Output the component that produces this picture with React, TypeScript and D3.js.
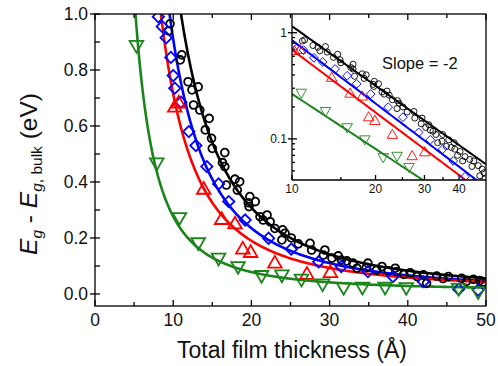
import * as d3 from "d3";
import { useEffect, useRef } from "react";

// black circles
const circleX = [9.4, 9.6, 10.9, 11.1, 11.9, 12.4, 13.2, 12.6, 13.4, 14.6, 14.1, 14.9, 15.0, 16.6, 16.3, 16.6, 16.8, 17.9, 18.5, 18.2, 19.8, 19.6, 20.5, 19.7, 21.1, 22.0, 21.5, 22.4, 23.0, 24.0, 24.3, 23.9, 25.1, 26.0, 27.5, 27.7, 29.4, 29.2, 30.3, 31.1, 31.5, 32.2, 33.0, 33.5, 34.9, 34.7, 36.0, 36.7, 37.5, 38.4, 38.6, 39.5, 40.3, 41.2, 42.0, 42.4, 43.7, 44.5, 45.2, 46.9, 47.5, 48.4, 49.2, 49.6];
const circleY = [0.94, 0.965, 0.836, 0.854, 0.758, 0.729, 0.74, 0.675, 0.657, 0.627, 0.586, 0.556, 0.52, 0.505, 0.469, 0.455, 0.389, 0.41, 0.401, 0.371, 0.348, 0.326, 0.33, 0.312, 0.276, 0.282, 0.264, 0.258, 0.234, 0.229, 0.217, 0.193, 0.2, 0.179, 0.181, 0.157, 0.157, 0.139, 0.128, 0.136, 0.121, 0.118, 0.11, 0.092, 0.11, 0.095, 0.085, 0.098, 0.083, 0.092, 0.08, 0.07, 0.076, 0.062, 0.068, 0.038, 0.064, 0.055, 0.062, 0.056, 0.045, 0.052, 0.048, 0.042];

// blue diamonds
const diamondX = [8.1, 8.6, 9.1, 9.7, 10.0, 10.2, 11.0, 12.0, 12.9, 14.3, 15.8, 17.1, 19.2, 22.2, 25.1, 28.6, 31.5, 34.9, 38.1, 42.0, 46.5, 49.0];
const diamondY = [0.99, 0.955, 0.915, 0.845, 0.78, 0.735, 0.685, 0.58, 0.53, 0.455, 0.393, 0.33, 0.264, 0.199, 0.16, 0.115, 0.098, 0.08, 0.062, 0.044, 0.017, 0.014];

// red triangles
const triUpX = [10.2, 10.7, 13.9, 16.2, 17.9, 18.9, 19.9, 23.0, 27.1, 30.1];
const triUpY = [0.665, 0.68, 0.372, 0.264, 0.248, 0.158, 0.146, 0.108, 0.068, 0.074];

// green triangles (down)
const triDownX = [5.3, 7.9, 10.8, 13.2, 15.8, 18.3, 21.3, 23.9, 26.4, 29.1, 31.8, 34.2, 37.1, 39.8, 46.5, 49.0];
const triDownY = [0.89, 0.47, 0.275, 0.185, 0.13, 0.1, 0.068, 0.07, 0.055, 0.038, 0.025, 0.026, 0.026, 0.025, 0.022, 0.01];

const seriesColors = ["#000000", "#0000ff", "#ff0000", "#1b841b"];
const seriesShapes = ["circle", "diamond", "up", "down"];
// fit E = A / d^2 + c
const fitAmp = [120, 90, 70, 26.5];
const fitOffset = [0.008, 0.01, 0.015, 0.012];
// inset fit lines: value at 10 A and log-log slope
const insetAt10 = [1.15, 0.85, 0.69, 0.265];
const insetSlope = [-1.86, -1.98, -1.96, -1.72];

const xTicks = [0, 10, 20, 30, 40, 50];
const xMinor = [5, 15, 25, 35, 45];
const yTicks = [0, 0.2, 0.4, 0.6, 0.8, 1.0];
const yMinor = [0.1, 0.3, 0.5, 0.7, 0.9];
const insetXTicks = [10, 20, 30, 40];
const insetXMinor = [15, 25, 35, 45];
const insetYTicks = [0.1, 1];
const insetYMinor = [0.05, 0.06, 0.07, 0.08, 0.09, 0.2, 0.3, 0.4, 0.5, 0.6, 0.7, 0.8, 0.9];

const FONT = "'Liberation Sans', Arial, Helvetica, sans-serif";

const App = () => {
  const svgRef = useRef<SVGSVGElement>(null);

  useEffect(() => {
    const svg = d3.select(svgRef.current);
    svg.selectAll("*").remove();

    const x = d3.scaleLinear().domain([0, 50]).range([95, 486]);
    const y = d3.scaleLinear().domain([-0.043, 1]).range([306, 14]);
    const ix = d3.scaleLog().domain([10, 50]).range([292, 486]);
    const iy = d3.scaleLog().domain([0.041, 1.5]).range([180, 14]);

    const defs = svg.append("defs");
    defs.append("clipPath").attr("id", "mainClip")
      .append("rect").attr("x", 95).attr("y", 14).attr("width", 391).attr("height", 292);
    defs.append("clipPath").attr("id", "insetClip")
      .append("rect").attr("x", 292).attr("y", 14).attr("width", 194).attr("height", 166);

    const series = [
      { xs: circleX, ys: circleY },
      { xs: diamondX, ys: diamondY },
      { xs: triUpX, ys: triUpY },
      { xs: triDownX, ys: triDownY },
    ];

    const drawMarkers = (g: any, xs: number[], ys: number[], sx: any, sy: any, shape: string, color: string, k: number, sw: number) => {
      const sym = shape === "circle" ? d3.symbolCircle : shape === "diamond" ? d3.symbolSquare : d3.symbolTriangle;
      const size = shape === "circle" ? 48 : shape === "diamond" ? 64 : 80;
      const rot = shape === "diamond" ? 45 : shape === "down" ? 180 : 0;
      g.append("g")
        .selectAll("path")
        .data(xs.map((v, i) => [v, ys[i]]))
        .join("path")
        .attr("d", d3.symbol(sym, size * k))
        .attr("transform", (d: number[]) => `translate(${sx(d[0])},${sy(d[1])}) rotate(${rot})`)
        .attr("fill", "none")
        .attr("stroke", color)
        .attr("stroke-width", sw);
    };

    // main plot
    const main = svg.append("g").attr("clip-path", "url(#mainClip)");
    const fitXs = d3.range(4, 50.05, 0.1);
    series.forEach((_s, i) => {
      const line = d3.line<number>()
        .x((d) => x(d))
        .y((d) => y(fitAmp[i] / (d * d) + fitOffset[i]));
      main.append("path").attr("d", line(fitXs)).attr("fill", "none")
        .attr("stroke", seriesColors[i]).attr("stroke-width", 2.6);
    });
    series.forEach((s, i) => {
      drawMarkers(main, s.xs, s.ys, x, y, seriesShapes[i], seriesColors[i], 1, 1.8);
    });

    // main frame + ticks
    const axis = svg.append("g").attr("stroke", "#000").attr("stroke-width", 1.3);
    axis.append("rect").attr("x", 95).attr("y", 14).attr("width", 391).attr("height", 292).attr("fill", "none");
    xTicks.forEach((t) => {
      axis.append("line").attr("x1", x(t)).attr("x2", x(t)).attr("y1", 306).attr("y2", 300);
      axis.append("line").attr("x1", x(t)).attr("x2", x(t)).attr("y1", 14).attr("y2", 20);
    });
    xMinor.forEach((t) => {
      axis.append("line").attr("x1", x(t)).attr("x2", x(t)).attr("y1", 306).attr("y2", 302);
      axis.append("line").attr("x1", x(t)).attr("x2", x(t)).attr("y1", 14).attr("y2", 18);
    });
    yTicks.forEach((t) => {
      axis.append("line").attr("x1", 90).attr("x2", 100).attr("y1", y(t)).attr("y2", y(t));
    });
    yMinor.forEach((t) => {
      axis.append("line").attr("x1", 95).attr("x2", 100).attr("y1", y(t)).attr("y2", y(t));
    });

    svg.append("g").attr("font-family", FONT).attr("font-size", 17.5).attr("fill", "#111")
      .selectAll("text").data(yTicks).join("text")
      .attr("x", 88).attr("y", (d) => y(d)).attr("dy", "0.36em").attr("text-anchor", "end")
      .text((d) => d3.format(".1f")(d));
    svg.append("g").attr("font-family", FONT).attr("font-size", 17.5).attr("fill", "#111")
      .selectAll("text").data(xTicks).join("text")
      .attr("x", (d) => x(d)).attr("y", 326).attr("text-anchor", "middle")
      .text((d) => String(d));

    svg.append("text").attr("x", 292).attr("y", 358).attr("text-anchor", "middle")
      .attr("font-family", FONT).attr("font-size", 23).attr("fill", "#111")
      .text("Total film thickness (Å)");

    const yt = svg.append("text").attr("transform", "translate(37,174) rotate(-90)")
      .attr("text-anchor", "middle").attr("font-family", FONT).attr("font-size", 24.5).attr("fill", "#111");
    yt.append("tspan").attr("font-style", "italic").text("E");
    yt.append("tspan").attr("font-style", "italic").attr("font-size", 15.5).attr("dy", 5).text("g");
    yt.append("tspan").attr("dy", -5).text(" - ");
    yt.append("tspan").attr("font-style", "italic").text("E");
    yt.append("tspan").attr("font-style", "italic").attr("font-size", 15.5).attr("dy", 5).text("g");
    yt.append("tspan").attr("font-size", 15.5).text(", bulk");
    yt.append("tspan").attr("dy", -5).text(" (eV)");

    // inset
    const inset = svg.append("g").attr("clip-path", "url(#insetClip)");
    const insetXs = d3.range(10, 50.05, 0.5);
    series.forEach((_s, i) => {
      const line = d3.line<number>()
        .x((d) => ix(d))
        .y((d) => iy(insetAt10[i] * Math.pow(d / 10, insetSlope[i])));
      inset.append("path").attr("d", line(insetXs)).attr("fill", "none")
        .attr("stroke", seriesColors[i]).attr("stroke-width", 2);
    });
    series.forEach((s, i) => {
      drawMarkers(inset, s.xs, s.ys, ix, iy, seriesShapes[i], seriesColors[i], 0.6, 0.9);
    });

    const iaxis = svg.append("g").attr("stroke", "#000").attr("stroke-width", 1.3);
    iaxis.append("line").attr("x1", 292).attr("x2", 292).attr("y1", 14).attr("y2", 180);
    iaxis.append("line").attr("x1", 292).attr("x2", 486).attr("y1", 180).attr("y2", 180);
    insetYTicks.forEach((t) => {
      iaxis.append("line").attr("x1", 288).attr("x2", 297).attr("y1", iy(t)).attr("y2", iy(t));
    });
    insetYMinor.forEach((t) => {
      iaxis.append("line").attr("x1", 292).attr("x2", 295).attr("y1", iy(t)).attr("y2", iy(t));
    });
    insetXTicks.forEach((t) => {
      iaxis.append("line").attr("x1", ix(t)).attr("x2", ix(t)).attr("y1", 180).attr("y2", 175);
    });
    insetXMinor.forEach((t) => {
      iaxis.append("line").attr("x1", ix(t)).attr("x2", ix(t)).attr("y1", 180).attr("y2", 177);
    });

    svg.append("g").attr("font-family", FONT).attr("font-size", 12).attr("fill", "#111")
      .selectAll("text").data(insetYTicks).join("text")
      .attr("x", 287).attr("y", (d) => iy(d)).attr("dy", "0.36em").attr("text-anchor", "end")
      .text((d) => String(d));
    svg.append("g").attr("font-family", FONT).attr("font-size", 12).attr("fill", "#111")
      .selectAll("text").data(insetXTicks).join("text")
      .attr("x", (d) => ix(d)).attr("y", 193).attr("text-anchor", "middle")
      .text((d) => String(d));

    svg.append("text").attr("x", 382).attr("y", 69).attr("font-family", FONT)
      .attr("font-size", 16.5).attr("fill", "#111").text("Slope = -2");
  }, []);

  return (
    <svg ref={svgRef} width={498} height={366}
      style={{ position: "absolute", left: 0, top: 0, background: "#fff" }}></svg>
  );
};

export default App;
